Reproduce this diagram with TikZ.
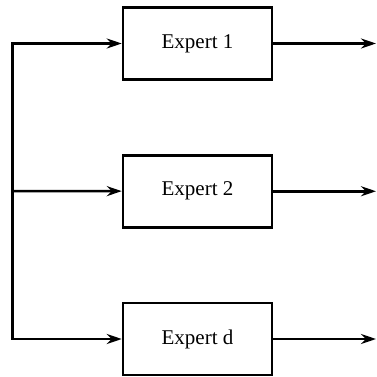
\documentclass[tikz,border=0pt]{standalone}
\usepackage{fontspec}
\setmainfont{Liberation Serif}
\usetikzlibrary{positioning,arrows.meta}

\begin{document}
\begin{tikzpicture}[->,>={Stealth[length=15pt,width=10pt,inset=5pt]},node distance=73.25pt,line width=2.5pt,
expert/.style={draw,rectangle,minimum width=149pt,minimum height=72pt,inner sep=0pt,font=\fontsize{21}{25}\selectfont}]

\useasboundingbox (0,0) rectangle (376pt,-377pt);

\node[expert](e1) at (197.5pt,-43.5pt){Expert 1};
\node[expert](e2)[below=of e1]{Expert 2};
\node[expert](e3)[below=of e2]{Expert d};

\coordinate(split) at (12.5pt,-191pt);
\coordinate(out) at (376pt,0);

\draw[<->](e1)-|(split)|-(e3);
\draw(split)--(e2);
\draw(e1)--(e1-|out);
\draw(e2)--(e2-|out);
\draw(e3)--(e3-|out);

\end{tikzpicture}
\end{document}
